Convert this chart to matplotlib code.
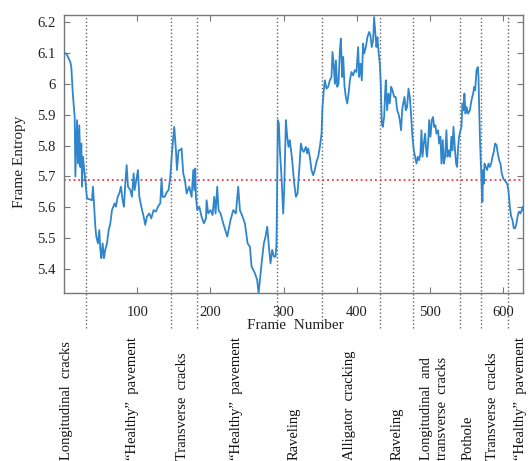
import matplotlib
matplotlib.use("Agg")
import matplotlib.pyplot as plt
from matplotlib.transforms import blended_transform_factory

# -------------------------
# Data
# -------------------------
frames = [
    0, 2, 4, 6, 8.6, 10, 12, 14.6, 15.5, 17.8, 19.1, 20.9, 22.3, 23.7, 24.6, 25.9, 27.3, 29.1,
    31.4, 35, 38.2, 39.6, 41.4, 42.8, 44.1, 46.4, 48.2, 49.6, 51.0, 52.8, 54.6, 56.4, 58.7,
    61.0, 63.3, 65.5, 69.2, 71.0, 73.3, 75.5, 77.8, 80.1, 81.9, 83.7, 85.6, 87.4, 90.6, 92.8,
    95.1, 96.5, 101.0, 102.9, 105.6, 108.8, 111.0, 113.3, 116.5, 119.2, 122.4, 125.6, 128.3,
    131.5, 133.3, 134.7, 137.4, 140.6, 142.9, 145.2, 147.4, 150.6, 152.9, 154.3, 156.5,
    158.4, 160.6, 162.9, 165.2, 167.5, 171.1, 174.3, 176.6, 178.0, 179.3, 180.2, 182.0, 184.8,
    187.9, 191.1, 193.9, 194.8, 197.0, 200.2, 202.9, 205.2, 207.0, 209.3, 211.1, 213.9, 217.5,
    223.0, 227.5, 231.2, 234.8, 238.0, 240.3, 243.9, 247.1, 250.8, 254.0, 256.2, 260.8, 263.9,
    265.8, 267.6, 269.9, 273.0, 275.3, 277.6, 279.9, 282.1, 284.4, 286.7, 289.0, 290.3, 292.1,
    293.5, 294.9, 297.1, 299.4, 300.8, 303.1, 304.9, 306.7, 308.5, 311.7, 314.5, 316.8, 319.0,
    321.3, 323.6, 325.8, 327.6, 330.4, 332.2, 333.6, 335.8, 338.1, 340.4, 342.6, 344.9, 347.2,
    349.5, 351.8, 353.1, 354.9, 356.3, 358.6, 360.9, 363.1, 365.4, 366.8, 368.6, 370.0, 371.4,
    373.2, 375.0, 376.8, 378.2, 380.0, 381.4, 383.2, 385.0, 386.9, 388.7, 390.5, 392.7, 395.0,
    397.3, 399.5, 401.8, 403.2, 405.0, 406.8, 408.6, 410.0, 412.3, 414.5, 416.8, 418.6, 420.4,
    422.3, 423.6, 425.0, 426.8, 428.2, 429.5, 431.4, 432.7, 434.1, 435.5, 437.3, 438.6, 439.6,
    441.4, 443.2, 445.0, 446.9, 448.7, 451.0, 453.2, 455.1, 456.9, 458.7, 460.5, 461.9, 463.3,
    465.1, 466.9, 468.7, 470.6, 472.4, 473.7, 476.0, 477.8, 480.1, 481.5, 483.3, 485.1, 486.9,
    488.3, 489.7, 491.5, 493.3, 495.1, 496.0, 497.9, 498.8, 500.6, 502.4, 504.2, 505.6, 507.4,
    508.8, 511.0, 512.4, 514.2, 515.6, 517.4, 518.8, 520.6, 522.4, 523.8, 525.6, 527.4, 529.2,
    530.6, 532.0, 533.8, 535.6, 537.0, 538.4, 539.7, 541.6, 542.9, 544.3, 545.7, 547.0, 548.4,
    549.8, 552.1, 554.4, 556.6, 558.9, 560.3, 561.7, 563.5, 565.3, 566.2, 567.1, 568.4, 569.8,
    570.7, 571.6, 572.6, 573.5, 574.4, 576.2, 578.0, 579.9, 581.7, 583.5, 585.3, 587.1, 588.9,
    590.8, 592.6, 594.4, 596.2, 598.0, 599.9, 601.7, 603.5, 605.3, 607.1, 609.0, 610.8, 612.6,
    614.4, 616.2, 618.1, 619.9, 621.7, 623.5, 625.3, 626.7, 627.6,
]

entropy = [
    6.100, 6.100, 6.095, 6.085, 6.072, 6.055, 5.970, 5.893, 5.700, 5.883, 5.742, 5.866, 5.731,
    5.807, 5.667, 5.764, 5.731, 5.688, 5.629, 5.626, 5.623, 5.667, 5.591, 5.537, 5.505, 5.483,
    5.526, 5.462, 5.435, 5.483, 5.435, 5.462, 5.483, 5.526, 5.548, 5.591, 5.613, 5.602, 5.634,
    5.645, 5.667, 5.623, 5.602, 5.677, 5.737, 5.667, 5.656, 5.634, 5.710, 5.656, 5.721, 5.634,
    5.602, 5.570, 5.543, 5.570, 5.580, 5.564, 5.591, 5.586, 5.602, 5.613, 5.694, 5.634, 5.634,
    5.650, 5.656, 5.699, 5.775, 5.861, 5.785, 5.721, 5.785,
    5.785, 5.791, 5.710, 5.688, 5.645, 5.667, 5.634, 5.721, 5.656, 5.726, 5.634, 5.591, 5.602,
    5.570, 5.548, 5.564, 5.623, 5.580, 5.591, 5.575, 5.634, 5.580, 5.667, 5.591, 5.580, 5.548,
    5.505, 5.559, 5.591, 5.580, 5.667, 5.591, 5.570, 5.548, 5.483, 5.472, 5.408, 5.386, 5.364,
    5.321, 5.364, 5.418, 5.483, 5.505, 5.537, 5.472, 5.418, 5.462, 5.440, 5.440, 5.483, 5.883,
    5.872, 5.785, 5.699, 5.580, 5.656, 5.883, 5.829, 5.796, 5.818, 5.753, 5.677, 5.634, 5.645,
    5.721, 5.807, 5.785, 5.780, 5.796, 5.775, 5.791, 5.764, 5.721, 5.704, 5.721, 5.748, 5.764,
    5.796, 5.839, 5.926, 5.980, 6.012, 5.985, 5.991, 6.012, 6.023, 6.104, 6.055, 6.001, 6.077,
    5.991, 6.001, 6.109, 6.147, 6.023, 6.088, 5.991, 5.958, 5.937, 5.969, 6.012, 6.039, 6.028,
    6.045, 6.039, 6.120, 6.023, 6.066, 6.012, 6.131, 6.099, 6.120, 6.152, 6.169, 6.158, 6.120,
    6.142, 6.217, 6.174, 6.120, 6.152, 6.109, 6.066, 6.001, 5.872, 5.861, 5.893, 5.969, 6.012,
    5.915, 5.969, 5.937, 5.991, 5.980, 5.958, 5.958, 5.915, 5.904, 5.883, 5.850, 5.915, 5.937,
    5.958, 5.915, 5.926, 5.985, 5.958, 5.915, 5.829, 5.785, 5.758, 5.742, 5.764, 5.753, 5.775,
    5.850, 5.764, 5.807, 5.839, 5.775, 5.764, 5.829, 5.883, 5.829, 5.883, 5.893, 5.861, 5.866,
    5.839, 5.850, 5.807, 5.829, 5.742, 5.818, 5.742, 5.764, 5.850, 5.764, 5.785, 5.764, 5.829,
    5.785, 5.861, 5.796, 5.742, 5.731, 5.796, 5.829, 5.850, 5.861, 5.937, 5.915, 5.969, 5.904,
    5.926, 5.904, 5.915, 5.947, 5.969, 5.991, 5.980, 6.045, 6.055, 6.023, 5.926, 5.807, 5.721,
    5.656, 5.618, 5.721, 5.677, 5.742, 5.731, 5.721, 5.742, 5.731, 5.742, 5.764, 5.780, 5.807,
    5.802, 5.775, 5.753, 5.742, 5.710, 5.694, 5.688, 5.683, 5.677, 5.656, 5.602, 5.570, 5.559,
    5.532, 5.532, 5.548, 5.575, 5.586, 5.580, 5.591, 5.602, 5.591,
]

mean_entropy = 5.69

# segment boundaries (frame numbers) and the distress label of each segment
boundaries = [30, 146, 181, 290.5, 352, 432, 477, 541, 569, 606]
segment_labels = [
    "Longitudinal  cracks",
    "\u201cHealthy\u201d  pavement",
    "Transverse  cracks",
    "\u201cHealthy\u201d  pavement",
    "Raveling",
    "Alligator  cracking",
    "Raveling",
    "Longitudinal  and\ntransverse  cracks",
    "Pothole",
    "Transverse  cracks",
    "\u201cHealthy\u201d  pavement",
]
label_frames = [4, 93, 162.5, 236, 315, 390, 454.5, 506.5, 551.5, 585.5, 623]

x_ticks = [100, 200, 300, 400, 500, 600]
y_ticks = [5.4, 5.5, 5.6, 5.7, 5.8, 5.9, 6.0, 6.1, 6.2]
y_tick_labels = ["5.4", "5.5", "5.6", "5.7", "5.8", "5.9", "6", "6.1", "6.2"]

# -------------------------
# Figure
# -------------------------
serif = "Liberation Serif"
fig = plt.figure(figsize=(5.28, 4.61), dpi=100)
ax = fig.add_axes([64 / 528, 1 - 293 / 461, 459 / 528, 278 / 461])

ax.plot(frames, entropy, color="#2f86cc", lw=1.3, zorder=3)
ax.axhline(mean_entropy, color="#ff3040", ls=":", lw=1.3, zorder=2)

for b in boundaries:
    ax.axvline(b, ymin=-0.126, ymax=1, color="#666666", ls=":", lw=1.0,
               clip_on=False, zorder=1)

ax.set_xlim(0, 627)
ax.set_ylim(5.322, 6.224)
ax.set_xticks(x_ticks)
ax.set_yticks(y_ticks)
ax.set_yticklabels(y_tick_labels)

for side in ["left", "right", "top", "bottom"]:
    ax.spines[side].set_color("#777777")
    ax.spines[side].set_linewidth(1.0)
ax.tick_params(direction="in", length=4, width=0.8, color="#777777",
               top=True, right=True, labelsize=10.5)
ax.tick_params(axis="x", pad=9)
ax.tick_params(axis="y", pad=6)
for lab in ax.get_xticklabels() + ax.get_yticklabels():
    lab.set_family(serif)
    lab.set_color("#222222")

ax.set_xlabel("Frame  Number", family=serif, fontsize=11, color="#222222")
ax.xaxis.set_label_coords(0.503, -0.095)
ax.set_ylabel("Frame Entropy", family=serif, fontsize=11, color="#222222")
ax.yaxis.set_label_coords(-0.082, 0.47)

# rotated segment names under the axis
trans = blended_transform_factory(ax.transData, fig.transFigure)
for f, txt in zip(label_frames, segment_labels):
    ax.text(f, 0.003, txt, transform=trans, rotation=90, ha="center", va="bottom",
            multialignment="left", family=serif, fontsize=10.5, color="#111111",
            clip_on=False, linespacing=1.3)

fig.savefig("out.png", dpi=100)
